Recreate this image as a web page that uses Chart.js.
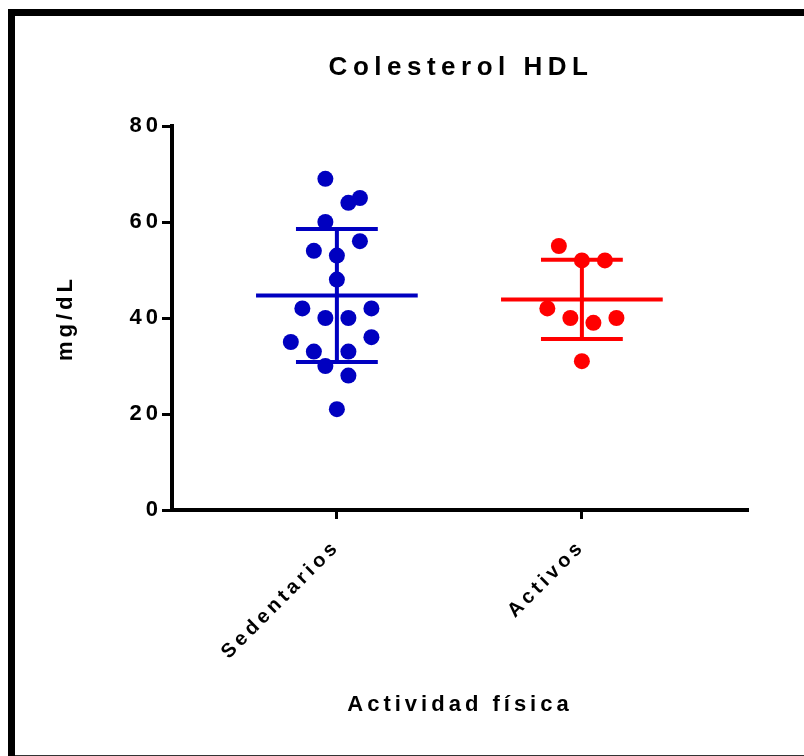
<!DOCTYPE html>
<html>
<head>
<meta charset="utf-8">
<title>Colesterol HDL</title>
<script src="https://cdn.jsdelivr.net/npm/chart.js@4.4.1/dist/chart.umd.min.js"></script>
<style>
  html, body { margin: 0; padding: 0; background: #fff; overflow: hidden; }
  canvas { display: block; }
</style>
</head>
<body>
<canvas id="hdl" width="804" height="756"></canvas>
<script>
// Colesterol HDL - dot plot, mean +/- SD per group

const groups = ['Sedentarios', 'Activos'];
const sedentarios = [69, 65, 64, 60, 56, 54, 53, 48, 42, 42, 40, 40, 35, 36, 33, 33, 30, 28, 21];
const activos = [55, 52, 52, 42, 40, 39, 40, 31];
// sideways column of each dot (scatter spread so dots don't overlap)
const sedentariosCols = [-1, 2, 1, -1, 2, -2, 0, 0, -3, 3, -1, 1, -4, 3, -2, 1, -1, 1, 0];
const activosCols = [-2, 0, 2, -3, -1, 1, 3, 0];
const yTicks = [0, 20, 40, 60, 80];

const FONT = '"Liberation Sans", Arial, Helvetica, sans-serif';
const groupColors = ['#0000c0', '#ff0000'];
const colStep = 0.047;
const meanHalf = 0.33;
const capHalf = 0.167;

function mean(arr) {
    return arr.reduce((a, b) => a + b, 0) / arr.length;
}

function sd(arr) {
    const m = mean(arr);
    const ss = arr.reduce((a, b) => a + (b - m) * (b - m), 0);
    return Math.sqrt(ss / (arr.length - 1));
}

const series = [sedentarios, activos];
const cols = [sedentariosCols, activosCols];
const datasets = [];

// dots first so they sit on top of the bars
series.forEach((vals, g) => {
    const xc = g + 1;
    datasets.push({
        type: 'scatter',
        label: groups[g],
        data: vals.map((v, i) => ({ x: xc + cols[g][i] * colStep, y: v })),
        backgroundColor: groupColors[g],
        borderWidth: 0,
        pointRadius: 8,
        pointHoverRadius: 8
    });
});

series.forEach((vals, g) => {
    const xc = g + 1;
    const m = mean(vals);
    const s = sd(vals);
    const hi = m + s;
    const lo = m - s;

    // mean line
    datasets.push({
        type: 'line',
        data: [{ x: xc - meanHalf, y: m }, { x: xc + meanHalf, y: m }],
        borderColor: groupColors[g],
        borderWidth: 4,
        pointRadius: 0,
        fill: false
    });

    // SD whisker: top cap, stem, bottom cap
    datasets.push({
        type: 'line',
        data: [
            { x: xc - capHalf, y: hi }, { x: xc + capHalf, y: hi }, { x: xc, y: null },
            { x: xc, y: hi }, { x: xc, y: lo }, { x: xc, y: null },
            { x: xc - capHalf, y: lo }, { x: xc + capHalf, y: lo }
        ],
        borderColor: groupColors[g],
        borderWidth: 4,
        pointRadius: 0,
        spanGaps: false,
        fill: false
    });
});

const spacingPlugin = {
    id: 'spacing',
    beforeLayout(chart) { chart.ctx.letterSpacing = '4px'; },
    beforeDraw(chart) {
        const ctx = chart.ctx;
        ctx.letterSpacing = '4px';
        // outer frame (left + top edges, cut at the picture border)
        ctx.save();
        ctx.fillStyle = '#000';
        ctx.fillRect(8, 9, 7, chart.height - 9);
        ctx.fillRect(8, 9, chart.width - 8, 7);
        ctx.fillStyle = '#333';
        ctx.fillRect(15, chart.height - 1, chart.width - 15, 1);
        ctx.restore();
    },
    afterDraw(chart) {
        const ctx = chart.ctx;
        const area = chart.chartArea;
        ctx.save();
        ctx.letterSpacing = '5.5px';
        ctx.font = 'bold 26px ' + FONT;
        ctx.fillStyle = '#000';
        ctx.textAlign = 'center';
        ctx.textBaseline = 'middle';
        ctx.fillText('Colesterol HDL', (area.left + area.right) / 2 + 1, 68);
        ctx.restore();
    }
};

Chart.defaults.font.family = FONT;
Chart.defaults.color = '#000';

new Chart(document.getElementById('hdl'), {
    type: 'scatter',
    data: { datasets },
    options: {
        responsive: false,
        animation: false,
        layout: { padding: { top: 126, left: 40, right: 56, bottom: 20 } },
        plugins: {
            legend: { display: false },
            tooltip: { enabled: false },
            title: { display: false }
        },
        scales: {
            x: {
                type: 'linear',
                min: 0.327,
                max: 2.678,
                afterBuildTicks: scale => { scale.ticks = groups.map((_, i) => ({ value: i + 1 })); },
                afterFit: scale => { scale.height = 226; },
                ticks: {
                    callback: (value, index) => groups[index],
                    minRotation: 45,
                    maxRotation: 45,
                    padding: 16,
                    color: '#000',
                    font: { size: 20, weight: 'bold' }
                },
                grid: { drawOnChartArea: false, tickLength: 9, tickWidth: 3, color: '#000' },
                border: { color: '#000', width: 4 },
                title: {
                    display: true,
                    text: 'Actividad física',
                    color: '#000',
                    font: { size: 22, weight: 'bold' },
                    padding: { top: 0, bottom: 18 }
                }
            },
            y: {
                min: 0,
                max: 80,
                afterBuildTicks: scale => { scale.ticks = yTicks.map(v => ({ value: v })); },
                afterFit: scale => { scale.width = 132; },
                ticks: {
                    padding: 0,
                    color: '#000',
                    font: { size: 22, weight: 'bold' }
                },
                grid: { drawOnChartArea: false, tickLength: 10, tickWidth: 3, color: '#000' },
                border: { color: '#000', width: 4 },
                title: {
                    display: true,
                    text: 'mg/dL',
                    color: '#000',
                    font: { size: 22, weight: 'bold' },
                    padding: { top: 13, bottom: 0 }
                }
            }
        }
    },
    plugins: [spacingPlugin]
});
</script>
</body>
</html>
